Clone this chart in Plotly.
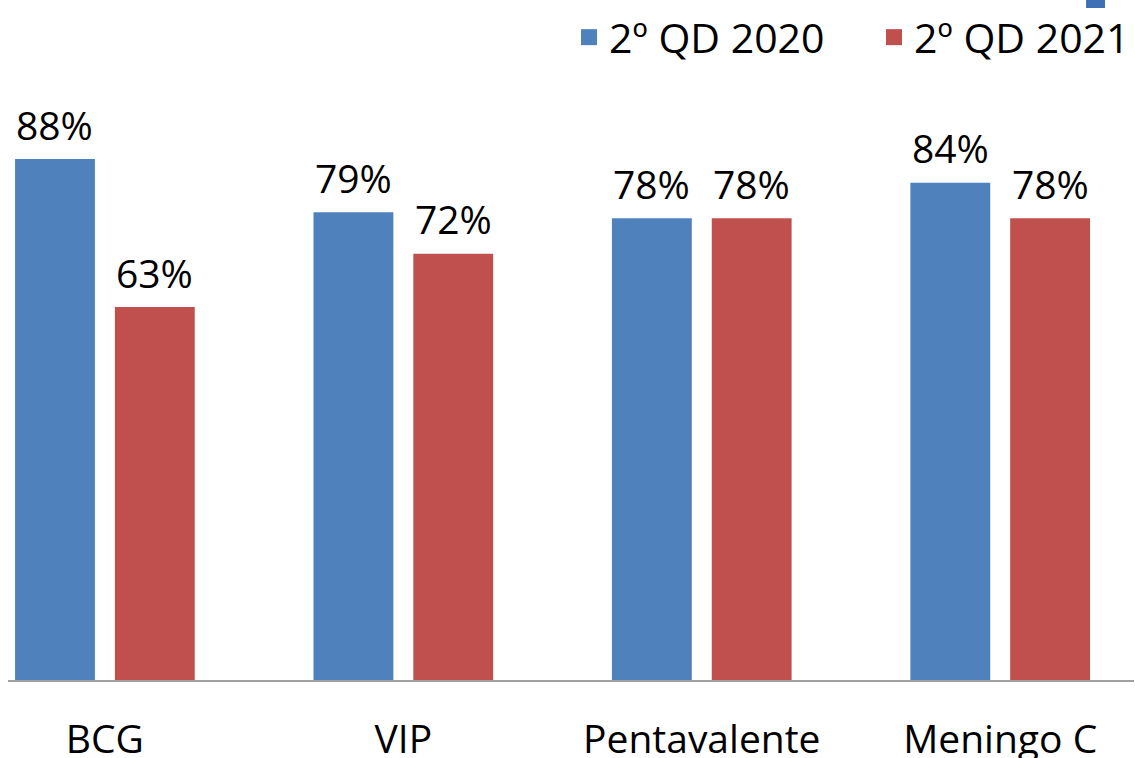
import plotly.graph_objects as go

categories = ["BCG", "VIP", "Pentavalente", "Meningo C"]
series_names = ["2º QD 2020", "2º QD 2021"]
values_2020 = [88, 79, 78, 84]
values_2021 = [63, 72, 78, 78]
colors = ["#4F81BD", "#C0504D"]

FONT = "Open Sans"
FS = 39

fig = go.Figure()
for i, (name, vals, col) in enumerate(zip(series_names, [values_2020, values_2021], colors)):
    fig.add_trace(go.Bar(x=categories, y=vals, name=name, marker_color=col,
                         marker_line_width=0, showlegend=False, hoverinfo="skip"))
    fig.add_trace(go.Scatter(x=[None], y=[None], mode="markers", name=name,
                             legend="legend" if i == 0 else "legend2",
                             marker=dict(symbol="square", size=16, color=col)))

# data labels
for vals, shift in zip([values_2020, values_2021], [-50, 50]):
    for c, v in zip(categories, vals):
        fig.add_annotation(x=c, y=v, text=f"{v}%", showarrow=False,
                           xshift=shift, yshift=35, yanchor="middle",
                           font=dict(family=FONT, size=FS, color="#000000"))

# small blue artifact at top right
fig.add_shape(type="rect", xref="paper", yref="paper",
              x0=(1087 - 8) / 1127, x1=(1106 - 8) / 1127,
              y0=1 + (80 - 8) / 600, y1=1 + 80 / 600,
              fillcolor="#3F6FB5", line_width=0)

legend_common = dict(orientation="h", xanchor="left", y=1 + 76 / 600, yanchor="top",
                     font=dict(family=FONT, size=41), bgcolor="rgba(0,0,0,0)",
                     itemsizing="trace")

fig.update_layout(
    width=1135, height=758,
    margin=dict(l=8, r=0, t=80, b=78),
    paper_bgcolor="white", plot_bgcolor="white",
    barmode="group", bargap=0.331, bargroupgap=0.2,
    font=dict(family=FONT, size=FS, color="#000000"),
    legend=dict(x=(569 - 8) / 1127, **legend_common),
    legend2=dict(x=(875 - 8) / 1127, **legend_common),
    showlegend=True,
)
fig.update_xaxes(type="category", range=[-0.3247, 3.4483], showgrid=False,
                 showline=True, linecolor="#A0A0A0", linewidth=1.5,
                 ticks="", ticklabelstandoff=24, automargin=False,
                 tickfont=dict(family=FONT, size=FS, color="#000000"),
                 fixedrange=True)
fig.update_yaxes(range=[0, 600 / 5.92], visible=False, showgrid=False,
                 fixedrange=True)

fig.write_html("out.html", config={"displayModeBar": False},
               post_script="document.body.style.margin='0';document.body.style.padding='0';")
